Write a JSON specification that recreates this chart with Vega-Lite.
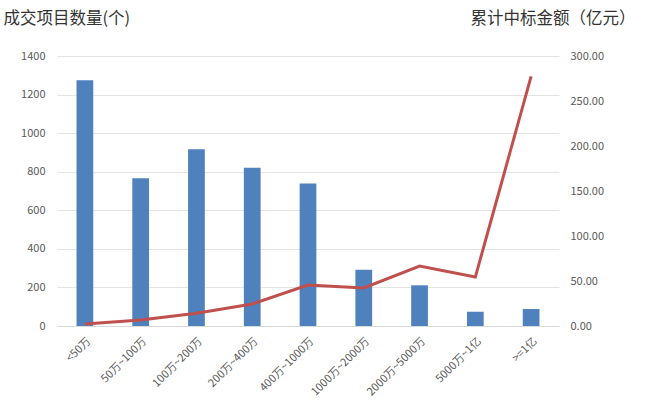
{
  "$schema": "https://vega.github.io/schema/vega-lite/v6.json",
  "autosize": {"type": "none"},
  "width": 502,
  "height": 270,
  "padding": {"left": 57, "top": 56, "right": 90, "bottom": 87},
  "background": "white",
  "config": {
    "view": {"stroke": null},
    "font": "Noto Sans CJK SC",
    "axis": {"labelColor": "#595959", "labelFontSize": 11, "labelFont": "Noto Sans CJK SC", "ticks": false}
  },
  "data": {
    "values": [
      {"range": "<50万", "count": 1274, "amount": 2.2},
      {"range": "50万~100万", "count": 766, "amount": 6.7},
      {"range": "100万~200万", "count": 917, "amount": 14.2},
      {"range": "200万~400万", "count": 820, "amount": 24.4},
      {"range": "400万~1000万", "count": 739, "amount": 45.5},
      {"range": "1000万~2000万", "count": 292, "amount": 42.2},
      {"range": "2000万~5000万", "count": 211, "amount": 66.6},
      {"range": "5000万~1亿", "count": 74, "amount": 54.4},
      {"range": ">=1亿", "count": 88, "amount": 277.4}
    ]
  },
  "encoding": {
    "x": {
      "field": "range",
      "type": "nominal",
      "sort": null,
      "title": null,
      "scale": {"paddingInner": 0.7, "paddingOuter": 0.35},
      "axis": {
        "labelAngle": -45,
        "labelAlign": "right",
        "labelBaseline": "top",
        "labelPadding": 9,
        "domainColor": "#D9D9D9",
        "labelFontSize": 11
      }
    }
  },
  "layer": [
    {
      "mark": {"type": "bar", "color": "#4F81BD"},
      "encoding": {
        "y": {
          "field": "count",
          "type": "quantitative",
          "scale": {"domain": [0, 1400]},
          "axis": {
            "orient": "left",
            "values": [0, 200, 400, 600, 800, 1000, 1200, 1400],
            "format": "d",
            "domain": false,
            "gridColor": "#E3E3E3",
            "labelPadding": 12,
            "title": "成交项目数量(个)",
            "titleAngle": 0,
            "titleAlign": "left",
            "titleBaseline": "top",
            "titleX": -54,
            "titleY": -46,
            "titleFontSize": 16.5,
            "titleFontWeight": "normal",
            "titleColor": "#333333"
          }
        }
      }
    },
    {
      "mark": {"type": "line", "color": "#C0504D", "strokeWidth": 3},
      "encoding": {
        "y": {
          "field": "amount",
          "type": "quantitative",
          "scale": {"domain": [0, 300]},
          "axis": {
            "orient": "right",
            "values": [0, 50, 100, 150, 200, 250, 300],
            "format": ".2f",
            "grid": false,
            "domain": false,
            "labelPadding": 11,
            "title": "累计中标金额（亿元）",
            "titleAngle": 0,
            "titleAlign": "left",
            "titleBaseline": "top",
            "titleX": -89,
            "titleY": -46,
            "titleFontSize": 16.5,
            "titleFontWeight": "normal",
            "titleColor": "#333333"
          }
        }
      }
    }
  ],
  "resolve": {"scale": {"y": "independent"}}
}
